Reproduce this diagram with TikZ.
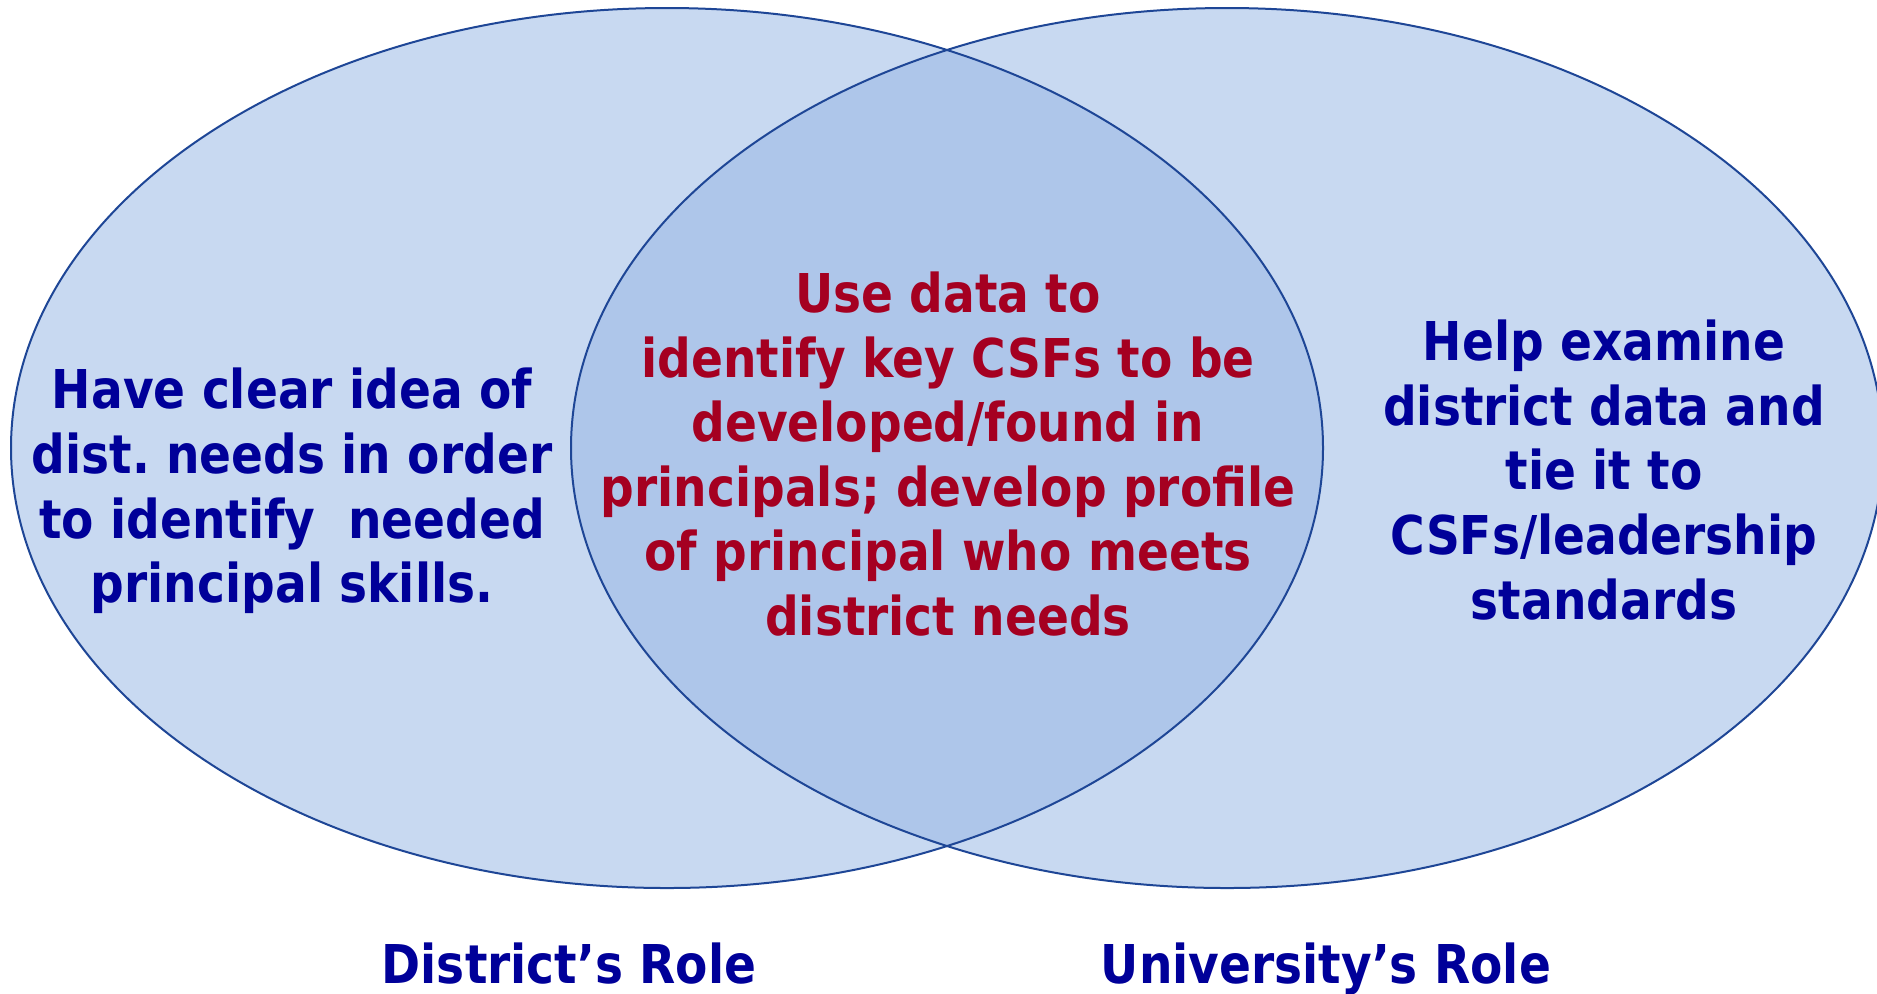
\documentclass[tikz,border=0pt]{standalone}
\usepackage{fontspec}
\setmainfont[FakeStretch=0.88]{DejaVu Sans}
\usepackage{xcolor}
\frenchspacing

\definecolor{vennfill}{RGB}{200,217,241}
\definecolor{venncommon}{RGB}{174,198,234}
\definecolor{vennline}{RGB}{30,70,150}
\definecolor{roleblue}{RGB}{0,0,153}
\definecolor{rolered}{RGB}{165,0,33}

\begin{document}
\begin{tikzpicture}[x=0.5pt,y=0.5pt,yscale=-1,xscale=1,
  roletext/.style={align=center,font=\bfseries\fontsize{26.75}{32.3}\selectfont},
  rolelabel/.style={anchor=base,font=\bfseries\fontsize{26.75}{32.3}\selectfont,text=roleblue}]
\useasboundingbox (0,0) rectangle (1877,993); %set diagram size 1877 x 993

%Shape: Ellipse (district)
\fill [vennfill] (667,448) ellipse [x radius=656, y radius=440];
%Shape: Ellipse (university)
\fill [vennfill] (1227,448) ellipse [x radius=656, y radius=440];
%Shape: Overlap
\begin{scope}
\clip (667,448) ellipse [x radius=656, y radius=440];
\fill [venncommon] (1227,448) ellipse [x radius=656, y radius=440];
\end{scope}
%Borders
\draw [vennline,line width=1pt] (667,448) ellipse [x radius=656, y radius=440];
\draw [vennline,line width=1pt] (1227,448) ellipse [x radius=656, y radius=440];

% Text Node
\node [roletext,text=roleblue] (district) at (292,491) {Have clear idea of\\dist. needs in order\\to identify~ needed\\principal skills.};
% Text Node
\node [roletext,text=rolered] (shared) at (948,454) {Use data to\\identify key CSFs to be\\developed/found in\\principals; develop profile\\of principal who meets\\district needs};
% Text Node
\node [roletext,text=roleblue] (university) at (1604,470) {Help examine\\district data and\\tie it to\\CSFs/leadership\\standards};
% Text Node
\node [rolelabel] (districtrole) at (569,983) {District’s Role};
% Text Node
\node [rolelabel] (universityrole) at (1326,983) {University’s Role};

\end{tikzpicture}
\end{document}
